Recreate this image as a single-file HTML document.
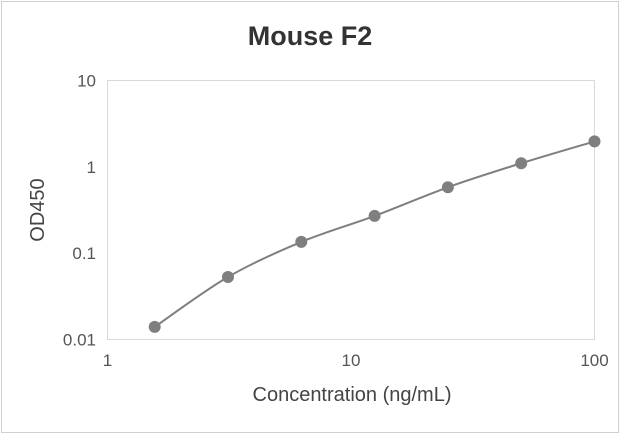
<!DOCTYPE html>
<html><head><meta charset="utf-8"><style>
body{margin:0;background:#fff;font-family:"Liberation Sans",Arial,sans-serif}
svg{display:block}
</style></head><body>
<svg id="chart" width="620" height="434">
<rect x="1.5" y="1.5" width="617" height="431" fill="#fff" stroke="#d0d0d0"/>
<text x="310" y="45" text-anchor="middle" font-size="27" font-weight="bold" fill="#333">Mouse F2</text>
<rect x="107.5" y="80.5" width="487" height="259" fill="none" stroke="#d9d9d9"/>
<text transform="translate(44,210) rotate(-90)" text-anchor="middle" font-size="20" fill="#444">OD450</text>
<text x="352" y="401" text-anchor="middle" font-size="20" fill="#444">Concentration (ng/mL)</text>
<g id="ticks"></g>
<path id="line" fill="none" stroke="#7f7f7f" stroke-width="2"/>
<g id="points"></g>
</svg>
<script>
const xValues=[1.5625,3.125,6.25,12.5,25,50,100];
const yValues=[0.014,0.053,0.135,0.27,0.58,1.1,1.97];
const yTicks=[10,1,0.1,0.01];
const yTickLabels=["10","1","0.1","0.01"];
const xTicks=[1,10,100];
const xTickLabels=["1","10","100"];
const X0=107.5,X1=594.5,Y0=80.5,Y1=339.5;
const xs=v=>X0+(Math.log10(v)-0)/2*(X1-X0);
const ys=v=>Y1-(Math.log10(v)+2)/3*(Y1-Y0);
const NS="http://www.w3.org/2000/svg";
const tg=document.getElementById('ticks');
yTicks.forEach((t,i)=>{const e=document.createElementNS(NS,'text');
e.setAttribute('x',96);e.setAttribute('y',ys(t)+6);e.setAttribute('text-anchor','end');
e.setAttribute('font-size','17');e.setAttribute('fill','#555');e.textContent=yTickLabels[i];


tg.appendChild(e);});
xTicks.forEach((t,i)=>{const e=document.createElementNS(NS,'text');
e.setAttribute('x',xs(t));e.setAttribute('y',366);e.setAttribute('text-anchor','middle');
e.setAttribute('font-size','17');e.setAttribute('fill','#555');e.textContent=xTickLabels[i];


tg.appendChild(e);});
const P=xValues.map((x,i)=>[xs(x),ys(yValues[i])]);
let d=`M${P[0][0]},${P[0][1]}`;
for(let i=0;i<P.length-1;i++){const p0=P[i-1]||P[i],p1=P[i],p2=P[i+1],p3=P[i+2]||p2;
const c1=[p1[0]+(p2[0]-p0[0])/6,p1[1]+(p2[1]-p0[1])/6],c2=[p2[0]-(p3[0]-p1[0])/6,p2[1]-(p3[1]-p1[1])/6];
d+=` C${c1[0]},${c1[1]} ${c2[0]},${c2[1]} ${p2[0]},${p2[1]}`;}
document.getElementById('line').setAttribute('d',d);
const pg=document.getElementById('points');
P.forEach(p=>{const c=document.createElementNS(NS,'circle');
c.setAttribute('cx',p[0]);c.setAttribute('cy',p[1]);c.setAttribute('r',6);c.setAttribute('fill','#7f7f7f');


pg.appendChild(c);});
</script>
</body></html>
